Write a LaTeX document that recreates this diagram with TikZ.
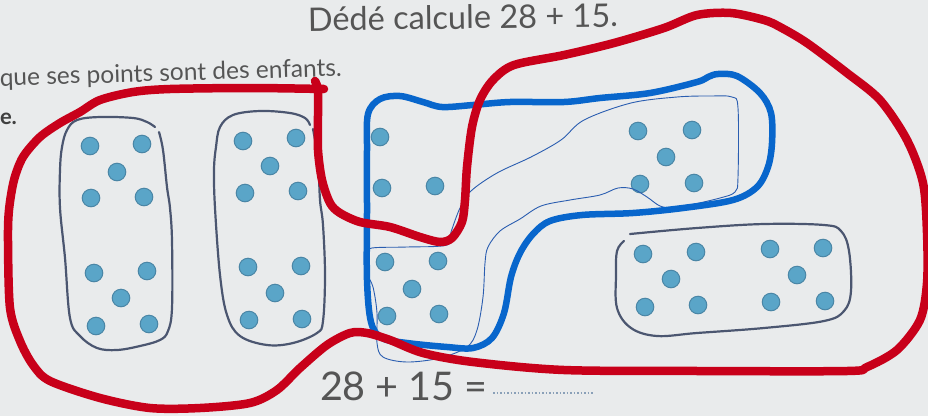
\documentclass[tikz,border=0pt]{standalone}
\usepackage{fontspec}
\setmainfont{Lato}
\definecolor{bgc}{HTML}{E9EBEC}
\definecolor{redc}{HTML}{C8001A}
\definecolor{bluec}{HTML}{0866CC}
\definecolor{thinb}{HTML}{2A5DB0}
\definecolor{grayl}{HTML}{4B5670}
\definecolor{dotf}{HTML}{5AA5C8}
\definecolor{dots}{HTML}{4A86A6}
\definecolor{txt}{HTML}{555555}
\definecolor{dotline}{HTML}{8AA0B8}
\tikzset{
  dotc/.style={fill=dotf, draw=dots, line width=1pt},
  printbox/.style={draw=grayl, line width=2.2pt, line cap=round},
  redloop/.style={draw=redc, line width=8.5pt, line cap=round, line join=round},
  blueloop/.style={draw=bluec, line width=6.5pt, line join=round},
  thinloop/.style={draw=thinb, line width=0.9pt},
  txtstyle/.style={text=txt, inner sep=0pt, outer sep=0pt}
}
\begin{document}
\begin{tikzpicture}[x=1pt,y=-1pt]
\useasboundingbox (0,0) rectangle (928,416);
\clip (0,0) rectangle (928,416);
\fill[bgc] (0,0) rectangle (928,416);

% texts
\node[txtstyle, anchor=base west, rotate=0.8, font=\fontsize{32.5}{33}\selectfont] (title) at (308,31) {Dédé calcule 28 + 15.};
\node[txtstyle, anchor=base west, rotate=1.7, font=\fontsize{24.5}{25}\selectfont] (sub) at (0,86) {que ses points sont des enfants.};
\node[txtstyle, anchor=base west, font=\fontsize{22}{22}\bfseries\selectfont, text=black!75] (eb) at (0,124) {e.};
\node[txtstyle, anchor=base west, font=\fontsize{39.5}{40}\selectfont] (sum) at (320,400) {28 + 15 =};
\coordinate (dl1) at (493,393);
\coordinate (dl2) at (593,393);
\draw[dotline, line width=1.2pt, dash pattern=on 1.5pt off 2pt] (dl1) -- (dl2);

% printed boxes
\draw[printbox] plot[smooth, tension=0.6] coordinates {(159,132) (163,150) (167,187) (170,208) (172,241) (172,308) (168,331) (160,340) (140,346) (117,350) (97,348) (80,336) (70,318) (65,258) (60,208) (60,170) (62,147) (67,130) (77,120) (100,117) (133,118) (147,122) (155,127)};
\draw[printbox] plot[smooth, tension=0.6] coordinates {(313,129) (318,160) (320,200) (323,225) (325,275) (323,321) (317,333) (293,343) (267,345) (240,336) (227,315) (220,275) (215,208) (214,170) (216,147) (220,127) (233,115) (260,111) (290,113) (305,118) (310,125)};
\draw[printbox] plot[smooth, tension=0.6] coordinates {(630,234) (697,228) (764,224) (824,225) (841,231) (849,251) (851,291) (844,311) (824,321) (764,328) (697,333) (657,336) (631,328) (617,308) (616,275) (617,251) (624,241)};

% dots
\foreach \p in {(90,146),(142,144),(117,172),(91,198),(144,197),
                (94,273),(147,271),(121,298),(96,326),(149,324),
                (243,141),(296,138),(270,166),(245,193),(298,191),
                (248,267),(301,266),(275,293),(249,320),(302,319),
                (380,137),(382,188),(435,186),
                (385,262),(438,261),(412,289),(387,316),(439,314),
                (638,131),(692,130),(666,157),(640,184),(694,183),
                (643,254),(696,252),(671,279),(645,307),(698,305),
                (770,249),(823,248),(797,275),(771,302),(825,301)}
  \draw[dotc] \p circle[radius=8.8pt];

% thin blue loop
\draw[thinloop] plot[smooth cycle, tension=0.55] coordinates {(372,248) (407,247) (447,245) (451,232) (460,208) (471,191) (497,173) (531,157) (561,140) (584,120) (631,103) (677,97) (710,96) (732,97) (738,108) (738,177) (735,192) (720,198) (690,205) (673,208) (660,206) (647,197) (633,189) (618,188) (600,195) (570,200) (541,206) (520,219) (500,231) (488,247) (485,263) (483,297) (477,330) (467,347) (440,358) (407,362) (383,357) (377,343) (377,313) (373,287) (367,273) (367,254)};

% thick blue loop
\draw[blueloop] plot[smooth cycle, tension=0.55] coordinates {(367,150) (368,114) (380,99) (400,96) (423,102) (442,107) (473,105) (510,102) (564,102) (600,98) (650,93) (697,82) (708,77) (718,74) (737,76) (760,93) (771,113) (772,143) (768,167) (757,187) (733,200) (683,208) (633,213) (582,215) (550,221) (533,234) (520,253) (511,277) (504,313) (492,338) (473,348) (447,347) (407,343) (382,338) (371,322) (367,280) (367,210)};

% red loop
\draw[redloop] plot[smooth, tension=0.5] coordinates {(324,89) (250,88) (170,89) (133,92) (100,100) (80,112) (60,123) (40,137) (23,157) (14,180) (9,210) (8,241) (10,308) (20,341) (33,365) (50,381) (100,398) (150,408) (200,408) (250,403) (277,390) (300,368) (327,345) (350,333) (367,333) (390,340) (423,353) (473,362) (564,370) (700,371) (847,371) (867,367) (897,350) (920,320) (927,283) (927,233) (923,183) (907,140) (880,100) (847,73) (807,43) (780,27) (764,20) (731,13) (697,15) (664,28) (614,43) (564,55) (514,65) (493,80) (480,100) (472,127) (467,167) (465,200) (462,222) (452,238) (440,242) (420,237) (390,227) (360,222) (340,213) (330,203) (322,180) (318,150) (318,115) (318,90) (315,81)};
\end{tikzpicture}
\end{document}
